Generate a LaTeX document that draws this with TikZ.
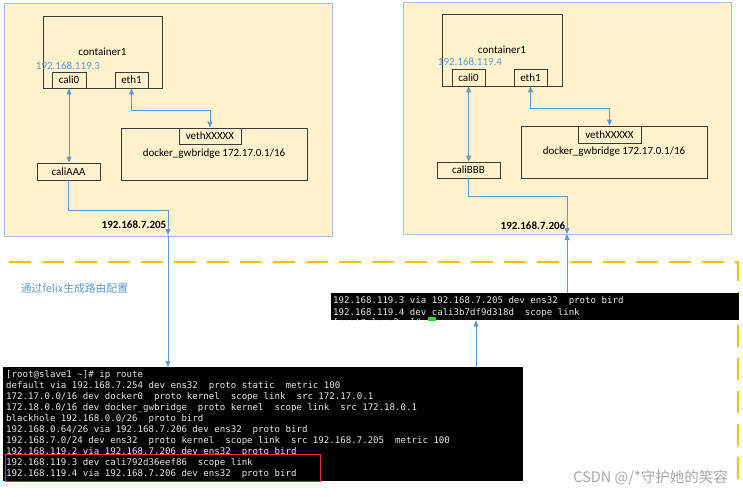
\documentclass[tikz,border=0pt]{standalone}
\usepackage{fontspec}
\setmainfont{Carlito}
\setmonofont{DejaVu Sans Mono}
\newfontfamily\cjk{Noto Sans CJK SC}
\usetikzlibrary{arrows.meta,calc}
\definecolor{hostfill}{HTML}{FFF2CC}
\definecolor{hostline}{HTML}{A4C2E6}
\definecolor{boxline}{HTML}{3A3A3A}
\definecolor{wireblue}{HTML}{5B9BD5}
\definecolor{dashc}{HTML}{FFC000}
\definecolor{termtext}{HTML}{E8E8E8}
\definecolor{redbox}{HTML}{E8322E}
\definecolor{cursorc}{HTML}{22DD22}
\definecolor{wm}{HTML}{A6A6A6}
\begin{document}
\begin{tikzpicture}[x=1pt,y=-1pt,
  host/.style={draw=hostline, fill=hostfill, line width=0.9pt, inner sep=0pt},
  ibox/.style={draw=boxline, line width=0.8pt, inner sep=0pt, font=\fontsize{11}{13}\selectfont},
  lbl/.style={inner sep=0pt, font=\fontsize{11}{13}\selectfont},
  boldlbl/.style={inner sep=0pt, font=\fontsize{11}{13}\selectfont\bfseries, anchor=east},
  wire/.style={draw=wireblue, line width=0.8pt},
  onearrow/.style={-{Triangle[length=6pt,width=5pt]}},
  twoarrow/.style={{Triangle[length=6pt,width=5pt]}-{Triangle[length=6pt,width=5pt]}},
  termbox/.style={fill=black, inner sep=0pt, anchor=north west},
  tline/.style={inner sep=0pt, anchor=base west, text=termtext, font=\ttfamily\fontsize{9.1}{11}\selectfont},
]
\useasboundingbox (0,0) rectangle (743,496);

% ---------- host A ----------
\node[host, minimum width=328pt, minimum height=233pt] (hostA) at (168,119.5) {};
\node[ibox, minimum width=119pt, minimum height=72pt] (contA) at (102.5,52) {container1};
\node[lbl, text=wireblue] (ipA) at (68,66) {192.168.119.3};
\node[ibox, minimum width=34pt, minimum height=16pt] (cali0A) at (69,80) {cali0};
\node[ibox, minimum width=33pt, minimum height=16pt] (eth1A) at (131.5,80) {eth1};
\node[ibox, minimum width=63pt, minimum height=17pt] (caliAAA) at (68.5,171.5) {caliAAA};
\node[ibox, minimum width=186pt, minimum height=52pt] (dockA) at (214,154) {\raisebox{-7pt}{docker\_gwbridge 172.17.0.1/16}};
\node[ibox, minimum width=62pt, minimum height=16pt] (vethA) at (210,136) {vethXXXXX};
\node[boldlbl] (ipA2) at (166.5,225) {192.168.7.205};

% ---------- host B ----------
\node[host, minimum width=328pt, minimum height=232pt] (hostB) at (567,118) {};
\node[ibox, minimum width=120pt, minimum height=72pt] (contB) at (502,50) {container1};
\node[lbl, text=wireblue] (ipB) at (470,62) {192.168.119.4};
\node[ibox, minimum width=33pt, minimum height=17pt] (cali0B) at (468.5,77.5) {cali0};
\node[ibox, minimum width=33pt, minimum height=17pt] (eth1B) at (530.5,77.5) {eth1};
\node[ibox, minimum width=63pt, minimum height=16pt] (caliBBB) at (468.5,170) {caliBBB};
\node[ibox, minimum width=186pt, minimum height=52pt] (dockB) at (614,152) {\raisebox{-7pt}{docker\_gwbridge 172.17.0.1/16}};
\node[ibox, minimum width=63pt, minimum height=17pt] (vethB) at (609.5,134.5) {vethXXXXX};
\node[boldlbl] (ipB2) at (565.5,226) {192.168.7.206};

% ---------- connectors inside hosts ----------
\draw[wire, twoarrow] (cali0A.south) -- (cali0A.south |- caliAAA.north);
\draw[wire, twoarrow] (eth1A.south) -- ++(0,22) -| (vethA.north);
\draw[wire, twoarrow] (cali0B.south) -- (cali0B.south |- caliBBB.north);
\draw[wire, twoarrow] (eth1B.south) -- ++(0,22) -| (vethB.north);

% ---------- dashed separator ----------
\coordinate (d1) at (9,262);
\coordinate (d2) at (738,262);
\coordinate (d3) at (738,488);
\draw[dashc, line width=1.3pt, dash pattern=on 22pt off 11pt] (d1) -- (d2) -- (d3);

\node[font=\cjk\fontsize{10.8}{13}\selectfont, text=wireblue, inner sep=0pt] (note) at (74.5,288) {通过felix生成路由配置};

% ---------- terminal 2 ----------
\node[termbox, minimum width=408pt, minimum height=27pt] (term2) at (331,293) {};
\node[tline] (t2a) at (333,303.3) {192.168.119.3 via 192.168.7.205 dev ens32~~proto bird};
\node[tline] (t2b) at (333,315.3) {192.168.119.4 dev cali3b7df9d318d~~scope link};
\begin{scope}
  \clip (331,293) rectangle (739,320);
  \node[tline] (t2c) at (333,325.5) {[root@slave2 \textasciitilde]\#};
  \fill[cursorc] (428,316.5) rectangle (436,321);
\end{scope}

% ---------- terminal 1 ----------
\node[termbox, minimum width=520pt, minimum height=114pt] (term1) at (3,367) {};
\node[tline] (t1a) at (6,377.3) {[root@slave1 \textasciitilde]\# ip route};
\node[tline] (t1b) at (6,388.3) {default via 192.168.7.254 dev ens32~~proto static~~metric 100};
\node[tline] (t1c) at (6,399.3) {172.17.0.0/16 dev docker0~~proto kernel~~scope link~~src 172.17.0.1};
\node[tline] (t1d) at (6,410.3) {172.18.0.0/16 dev docker\_gwbridge~~proto kernel~~scope link~~src 172.18.0.1};
\node[tline] (t1e) at (6,421.3) {blackhole 192.168.0.0/26~~proto bird};
\node[tline] (t1f) at (6,432.3) {192.168.0.64/26 via 192.168.7.206 dev ens32~~proto bird};
\node[tline] (t1g) at (6,443.3) {192.168.7.0/24 dev ens32~~proto kernel~~scope link~~src 192.168.7.205~~metric 100};
\begin{scope}
  \clip (3,367) rectangle (523,453.3);
  \node[tline] (t1h) at (6,454.3) {192.168.119.2 via 192.168.7.206 dev ens32~~proto bird};
\end{scope}
\node[tline] (t1i) at (6,465.3) {192.168.119.3 dev cali792d36eef86~~scope link};
\node[tline] (t1j) at (6,476.3) {192.168.119.4 via 192.168.7.206 dev ens32~~proto bird};
\node[draw=redbox, line width=1.3pt, inner sep=0pt, minimum width=315pt, minimum height=27pt, anchor=north west] (hl) at (5,454) {};

% ---------- connectors between hosts and terminals ----------
\coordinate (outA) at (168,235);
\coordinate (outB) at (567,234);
\coordinate (upx) at (476,0);
\draw[wire, onearrow] (caliAAA.south) -- ++(0,30) -| (outA);
\draw[wire, onearrow] (outA) -- (outA |- term1.north);
\draw[wire, onearrow] (caliBBB.south) -- ++(0,18) -| (outB);
\draw[wire, onearrow] (outB |- term2.north) -- (outB);
\draw[wire, onearrow] (upx |- term1.north) -- (upx |- term2.south);

% ---------- watermark ----------
\node[font=\cjk\fontsize{14.5}{16}\selectfont, text=wm, anchor=east, inner sep=0pt] (wmark) at (728,478) {CSDN @/*守护她的笑容};
\end{tikzpicture}
\end{document}
